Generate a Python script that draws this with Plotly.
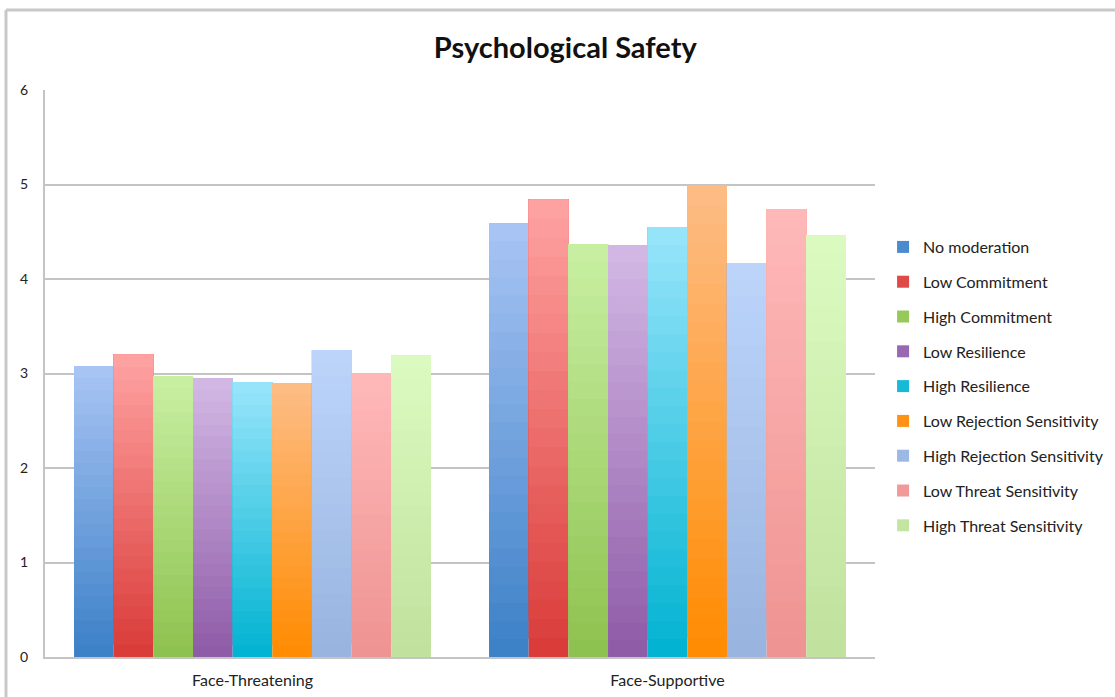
import plotly.graph_objects as go

# Chart data
conditions = ["Face-Threatening", "Face-Supportive"]
series_names = [
    "No moderation",
    "Low Commitment",
    "High Commitment",
    "Low Resilience",
    "High Resilience",
    "Low Rejection Sensitivity",
    "High Rejection Sensitivity",
    "Low Threat Sensitivity",
    "High Threat Sensitivity",
]
no_moderation = [3.08, 4.59]
low_commitment = [3.20, 4.84]
high_commitment = [2.97, 4.37]
low_resilience = [2.95, 4.36]
high_resilience = [2.91, 4.55]
low_rejection = [2.90, 4.99]
high_rejection = [3.25, 4.17]
low_threat = [3.00, 4.74]
high_threat = [3.19, 4.46]
series_values = [
    no_moderation, low_commitment, high_commitment, low_resilience,
    high_resilience, low_rejection, high_rejection, low_threat, high_threat,
]
y_ticks = [0, 1, 2, 3, 4, 5, 6]

# Gradient end colours per series: (top, bottom)
colors = [
    ("#a9c5f5", "#3b80c6"),
    ("#ffa3a3", "#d93a37"),
    ("#c9f0a3", "#8dc14e"),
    ("#d3b9e5", "#8e5aa7"),
    ("#99e5fb", "#00b3d1"),
    ("#fdbd87", "#ff8b00"),
    ("#bdd5fb", "#97b3de"),
    ("#ffb9b9", "#ee9392"),
    ("#dcfbc1", "#c0e19d"),
]
N_SLICES = 24


def hex_to_rgb(h):
    h = h.lstrip("#")
    return tuple(int(h[i:i + 2], 16) for i in (0, 2, 4))


def mix(c_top, c_bot, t):
    a, b = hex_to_rgb(c_top), hex_to_rgb(c_bot)
    r = [round(b[k] + (a[k] - b[k]) * t) for k in range(3)]
    return "rgb({},{},{})".format(*r)


fig = go.Figure()
for s, (name, vals) in enumerate(zip(series_names, series_values)):
    top, bot = colors[s]
    # Each layer runs from its own base up to the bar's value; later
    # (lighter) layers paint over the upper part, giving a vertical gradient.
    for i in range(N_SLICES):
        t = (i + 0.5) / N_SLICES
        base = [v * i / N_SLICES for v in vals]
        height = [v - b for v, b in zip(vals, base)]
        fig.add_trace(go.Bar(
            x=conditions,
            y=height,
            base=base,
            name=name,
            offsetgroup=str(s),
            legendgroup=name,
            showlegend=(i == 3),
            marker=dict(color=mix(top, bot, t), line=dict(width=0)),
            hoverinfo="skip" if i else None,
        ))

# Outer chart frame (top and left edges)
frame = dict(type="line", xref="paper", yref="paper",
             line=dict(color="#c8c8c8", width=3), layer="below")

fig.update_layout(
    width=1115,
    height=697,
    margin=dict(l=45, r=240, t=90, b=40, autoexpand=False),
    paper_bgcolor="white",
    plot_bgcolor="white",
    barmode="group",
    bargap=0.14,
    bargroupgap=0,
    title=dict(
        text="Psychological Safety",
        x=0.507, xanchor="center", y=0.931, yanchor="middle",
        font=dict(family="Lato", size=29, color="#111111", weight="bold"),
    ),
    font=dict(family="Lato", color="#222222"),
    legend=dict(
        xref="container", yref="container",
        x=0.792, xanchor="left", y=0.670, yanchor="top",
        font=dict(size=16, color="#222222"),
        tracegroupgap=11,
        itemwidth=30,
        bgcolor="rgba(0,0,0,0)",
    ),
    showlegend=True,
    shapes=[
        dict(frame, x0=-0.047, x1=1.30, y0=1.141, y1=1.141),
        dict(frame, x0=-0.047, x1=-0.047, y0=1.141, y1=-0.1),
    ],
)
fig.update_yaxes(
    range=[0, 6],
    tickvals=y_ticks,
    showgrid=True,
    gridcolor="#c4c4c4",
    gridwidth=2,
    showline=True,
    linecolor="#c4c4c4",
    linewidth=2,
    zeroline=False,
    automargin=False,
    ticklabelstandoff=12,
    tickfont=dict(size=14, color="#222222"),
)
fig.update_xaxes(
    showline=True,
    linecolor="#c4c4c4",
    linewidth=2,
    automargin=False,
    ticklabelstandoff=8,
    tickfont=dict(size=16, color="#222222"),
)

fig.write_html("out.html")
